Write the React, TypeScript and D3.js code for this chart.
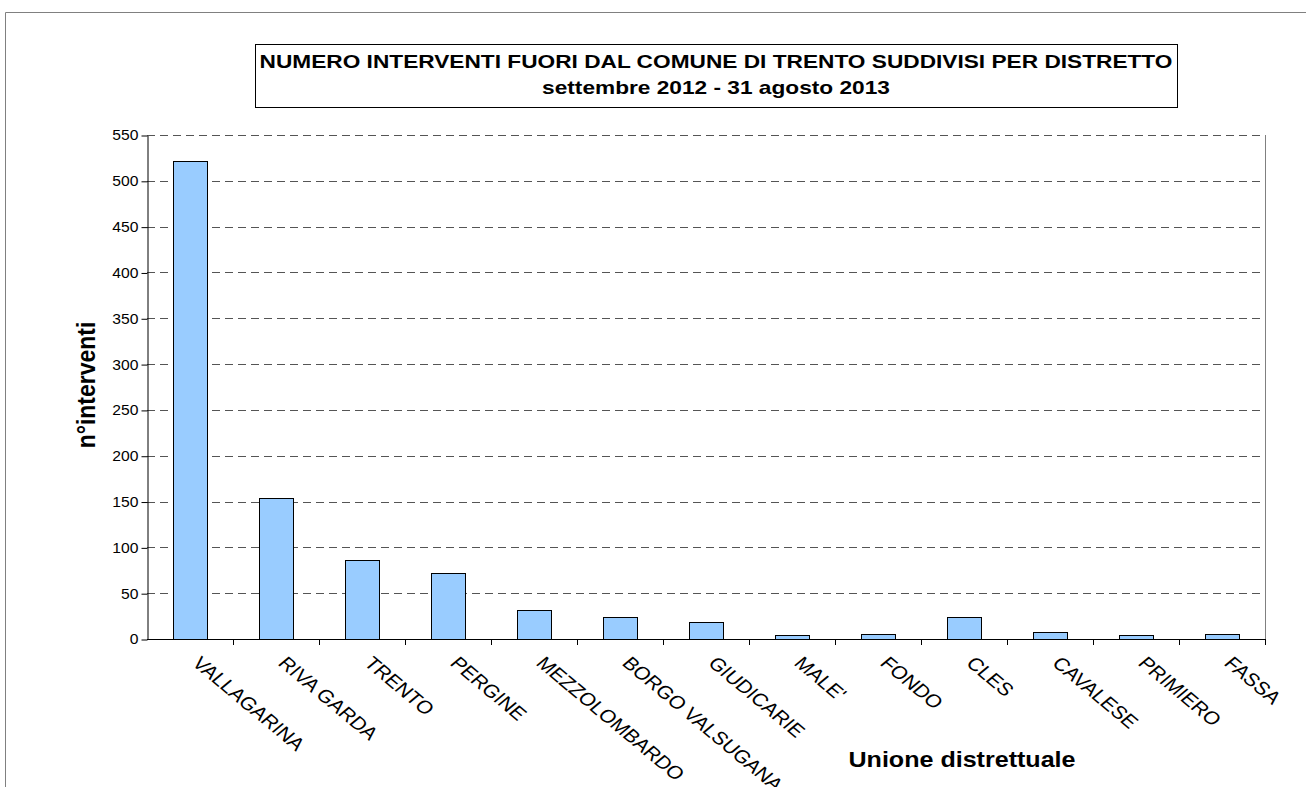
import { useEffect, useRef } from 'react'
import * as d3 from 'd3'

const categories = [
    'VALLAGARINA', 'RIVA GARDA', 'TRENTO', 'PERGINE', 'MEZZOLOMBARDO',
    'BORGO VALSUGANA', 'GIUDICARIE', "MALE'", 'FONDO', 'CLES',
    'CAVALESE', 'PRIMIERO', 'FASSA'
]
const interventi = [522, 154, 86, 72, 32, 24, 19, 4, 5, 24, 8, 4, 5]
const yTicks = [0, 50, 100, 150, 200, 250, 300, 350, 400, 450, 500, 550]
const titleLines = [
    'NUMERO INTERVENTI FUORI DAL COMUNE DI TRENTO SUDDIVISI PER DISTRETTO',
    'settembre 2012 - 31 agosto 2013'
]

function App() {
    const ref = useRef<SVGSVGElement>(null)

    useEffect(() => {
        const width = 1306
        const height = 787
        const plot = { left: 147, right: 1265, top: 135, bottom: 639 }
        const font = 'Arial, "Liberation Sans", sans-serif'

        const svg = d3.select(ref.current)
        svg.selectAll('*').remove()

        // outer chart border
        svg.append('path')
            .attr('d', `M5.5,${height} V12.5 H${width}`)
            .attr('fill', 'none')
            .attr('stroke', '#808080')

        // title box (the original text is a bit stretched sideways)
        svg.append('rect')
            .attr('x', 255.5).attr('y', 44.5)
            .attr('width', 922).attr('height', 63)
            .attr('fill', 'white')
            .attr('stroke', 'black')
        titleLines.forEach((t, i) => {
            svg.append('text')
                .attr('transform', `translate(716,${68 + i * 26}) scale(1.26,1)`)
                .attr('text-anchor', 'middle')
                .attr('font-family', font)
                .attr('font-weight', 'bold')
                .attr('font-size', 18)
                .text(t)
        })

        const x = d3.scaleBand()
            .domain(categories)
            .range([plot.left, plot.right])
            .paddingInner(0.6)
            .paddingOuter(0.3)

        const y = d3.scaleLinear()
            .domain([0, 550])
            .range([plot.bottom, plot.top])

        // gridlines
        svg.append('g')
            .selectAll('line')
            .data(yTicks.filter(d => d > 0))
            .join('line')
            .attr('x1', plot.left).attr('x2', plot.right)
            .attr('y1', d => Math.round(y(d)) + 0.5)
            .attr('y2', d => Math.round(y(d)) + 0.5)
            .attr('stroke', '#555')
            .attr('stroke-dasharray', '8,5')

        // right border of plot area
        svg.append('line')
            .attr('x1', plot.right + 0.5).attr('x2', plot.right + 0.5)
            .attr('y1', plot.top).attr('y2', plot.bottom + 6)
            .attr('stroke', '#808080')

        // bars
        svg.append('g')
            .selectAll('rect')
            .data(categories)
            .join('rect')
            .attr('x', d => Math.round(x(d)!) + 0.5)
            .attr('y', (d, i) => Math.round(y(interventi[i])) + 0.5)
            .attr('width', Math.round(x.bandwidth()))
            .attr('height', (d, i) => Math.round(y(0)) - Math.round(y(interventi[i])))
            .attr('fill', '#99CCFF')
            .attr('stroke', 'black')

        // y axis
        const yAxis = svg.append('g')
            .attr('transform', `translate(${plot.left + 0.5},0.5)`)
            .call(d3.axisLeft(y).tickValues(yTicks).tickSize(6).tickSizeOuter(0))
        yAxis.select('.domain').attr('stroke', 'black')
        yAxis.selectAll('.tick text')
            .attr('font-family', font)
            .attr('font-size', 14)
            .attr('fill', 'black')
            .attr('x', -9)
            .attr('transform', 'translate(-9,0) scale(1.12,1) translate(9,0)')

        // x axis
        const bounds = d3.range(categories.length + 1)
            .map(i => plot.left + i * (plot.right - plot.left) / categories.length)
        const xAxis = svg.append('g')
        xAxis.append('line')
            .attr('x1', plot.left).attr('x2', plot.right + 1)
            .attr('y1', plot.bottom + 0.5).attr('y2', plot.bottom + 0.5)
            .attr('stroke', 'black')
        xAxis.selectAll('line.tick')
            .data(bounds.slice(1))
            .join('line')
            .attr('class', 'tick')
            .attr('x1', d => Math.round(d) + 0.5).attr('x2', d => Math.round(d) + 0.5)
            .attr('y1', plot.bottom).attr('y2', plot.bottom + 6)
            .attr('stroke', 'black')

        xAxis.selectAll('text')
            .data(categories)
            .join('text')
            .attr('transform', d =>
                `translate(${x(d)! + x.bandwidth() / 2 + 12},${plot.bottom + 16}) scale(1.2,1) rotate(45)`)
            .attr('font-family', font)
            .attr('font-size', 18)
            .attr('dominant-baseline', 'hanging')
            .text(d => d)

        // axis titles
        svg.append('text')
            .attr('transform', `translate(95,${(plot.top + plot.bottom) / 2 - 2}) scale(1.15,1) rotate(-90)`)
            .attr('text-anchor', 'middle')
            .attr('font-family', font)
            .attr('font-weight', 'bold')
            .attr('font-size', 23)
            .text('n°interventi')

        svg.append('text')
            .attr('transform', 'translate(962,767) scale(1.14,1)')
            .attr('text-anchor', 'middle')
            .attr('font-family', font)
            .attr('font-weight', 'bold')
            .attr('font-size', 22)
            .text('Unione distrettuale')
    }, [])

    return (
        <svg
            ref={ref}
            width={1306}
            height={787}
            style={{ position: 'absolute', left: 0, top: 0, background: 'white' }}
        />
    )
}

export default App
